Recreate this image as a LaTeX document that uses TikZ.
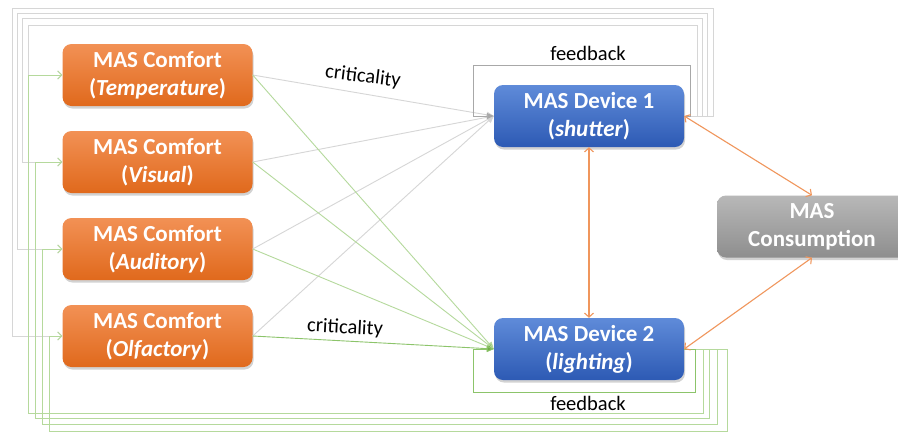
\documentclass[tikz,border=0pt]{standalone}
\usepackage{fontspec}
\setmainfont{Carlito}
\usetikzlibrary{arrows.meta,shadows,calc}
\definecolor{orTop}{HTML}{F29155}
\definecolor{orBot}{HTML}{E0691C}
\definecolor{blTop}{HTML}{5F8BD9}
\definecolor{blBot}{HTML}{2D5AB4}
\definecolor{gyTop}{HTML}{B8B8B8}
\definecolor{gyBot}{HTML}{8E8E8E}
\definecolor{lgray}{HTML}{D6D6D6}
\definecolor{mgray}{HTML}{A8A8A8}
\definecolor{lgreen}{HTML}{B5D99C}
\definecolor{mgreen}{HTML}{8CC46A}
\definecolor{dgreen}{HTML}{70AD47}
\definecolor{arrOr}{HTML}{F0965C}
\begin{document}
\begin{tikzpicture}[x=1pt,y=-1pt,
  box/.style={rounded corners=9pt, minimum width=190pt, minimum height=62pt,
    text=white, align=center, font=\fontsize{23}{28}\selectfont\bfseries,
    drop shadow={shadow xshift=1pt, shadow yshift=-2.5pt, opacity=0.35}},
  comfort/.style={box, top color=orTop, bottom color=orBot},
  device/.style={box, top color=blTop, bottom color=blBot},
  consum/.style={box, top color=gyTop, bottom color=gyBot},
  lbl/.style={font=\fontsize{20.5}{23}\selectfont, text=black},
  crgray/.style={draw=lgray, line width=0.9pt, -{Triangle[length=7pt,width=6pt]}},
  crgreen/.style={draw=lgreen, line width=0.9pt, -{Triangle[length=7pt,width=6pt,fill=dgreen]}},
  loopgray/.style={draw=lgray, line width=0.9pt, -{Straight Barb[length=4pt,width=8pt]}},
  loopgreen/.style={draw=lgreen, line width=0.9pt, -{Straight Barb[length=4pt,width=8pt]}},
  orarr/.style={draw=arrOr, line width=1.1pt, {Straight Barb[length=4pt,width=9pt]}-{Straight Barb[length=4pt,width=9pt]}}
]
\clip (0,0) rectangle (898,432);
\fill[white] (0,0) rectangle (898,432);

% nodes
\node[comfort] (c1) at (157.5,75) {MAS Comfort\\(\textit{Temperature})};
\node[comfort] (c2) at (157.5,162) {MAS Comfort\\(\textit{Visual})};
\node[comfort] (c3) at (157.5,249) {MAS Comfort\\(\textit{Auditory})};
\node[comfort] (c4) at (157.5,336) {MAS Comfort\\(\textit{Olfactory})};
\node[device] (d1) at (589,116) {MAS Device 1\\(\textit{shutter})};
\node[device] (d2) at (589,349) {MAS Device 2\\(\textit{lighting})};
\node[consum] (cs) at (812,226.5) {MAS\\Consumption};

% gray outer loops from device 1 to comfort agents
\draw[loopgray] (d1.east) -- ++(13,0) |- (28,25) |- (c1.west);
\draw[loopgray] (d1.east) -- ++(18,0) |- (22,18) |- (c2.west);
\draw[loopgray] (d1.east) -- ++(23,0) |- (17,13) |- (c3.west);
\draw[loopgray] (d1.east) -- ++(29,0) |- (12,8) |- (c4.west);

% green outer loops from device 2 to comfort agents
\draw[loopgreen] (d2.east) -- ++(19,0) |- (28,413) |- (c1.west);
\draw[loopgreen] (d2.east) -- ++(25,0) |- (35,418) |- (c2.west);
\draw[loopgreen] (d2.east) -- ++(33,0) |- (42,424) |- (c3.west);
\draw[loopgreen] (d2.east) -- ++(43,0) |- (49,431) |- (c4.west);

% criticality connectors
\draw[crgray] (c1.east) -- (d1.west);
\draw[crgray] (c2.east) -- (d1.west);
\draw[crgray] (c3.east) -- (d1.west);
\draw[crgray] (c4.east) -- (d1.west);
\draw[crgreen] (c1.east) -- (d2.west);
\draw[crgreen] (c2.east) -- (d2.west);
\draw[crgreen] (c3.east) -- (d2.west);
\draw[crgreen, draw=mgreen] (c4.east) -- (d2.west);

% inner feedback loops
\draw[draw=mgray, line width=0.9pt, -{Triangle[length=7pt,width=6pt]}] (d1.east) -- ++(6,0) |- (473,65) |- (d1.west);
\draw[draw=mgreen, line width=0.9pt, -{Triangle[length=7pt,width=6pt,fill=dgreen]}] (d2.east) -- ++(11,0) |- (473,392) |- (d2.west);

% orange two-way arrows
\draw[orarr] (d1.south) -- (d2.north);
\draw[orarr] (d1.east) -- (cs.north);
\draw[orarr] (d2.east) -- (cs.south);

% labels
\node[lbl, rotate=-7] (crit1) at (363,77) {criticality};
\node[lbl, rotate=-3] (crit2) at (345,328) {criticality};
\node[lbl] (fb1) at (588,53) {feedback};
\node[lbl] (fb2) at (588,403) {feedback};
\end{tikzpicture}
\end{document}
